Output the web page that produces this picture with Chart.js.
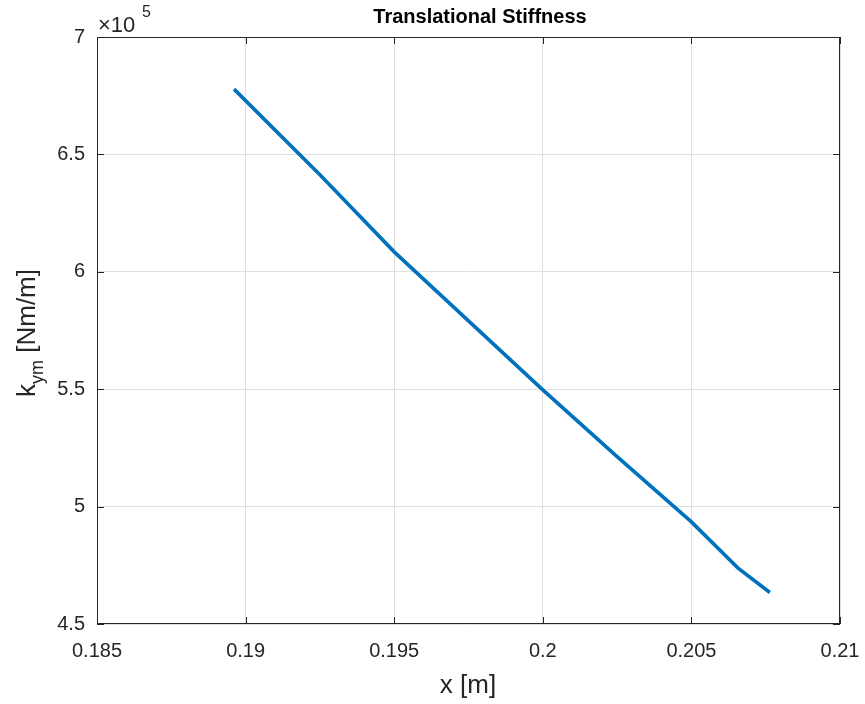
<!DOCTYPE html>
<html>
<head>
<meta charset="utf-8">
<script src="https://cdn.jsdelivr.net/npm/chart.js@4/dist/chart.umd.min.js"></script>
<style>
  html, body { margin: 0; padding: 0; background: #fff; }
  #wrap { width: 865px; height: 704px; }
</style>
</head>
<body>
<div id="wrap"><canvas id="chart" width="865" height="704"></canvas></div>
<script>
// data
const xPos = [0.18961, 0.1925, 0.195, 0.2, 0.2025, 0.205, 0.20656, 0.20764];
const kym = [677800, 641300, 608500, 549700, 521300, 493500, 473900, 463400];
const xTicks = ["0.185", "0.19", "0.195", "0.2", "0.205", "0.21"];
const yTicks = ["4.5", "5", "5.5", "6", "6.5", "7"];

const ink = "#262626";
const font = "'Liberation Sans', Arial, Helvetica, sans-serif";

const points = xPos.map((x, i) => ({ x: x, y: kym[i] }));

// frame, inward ticks, title and labels (matlab style)
const decor = {
  id: "decor",
  afterDraw(chart) {
    const ctx = chart.ctx;
    const a = chart.chartArea;
    const xs = chart.scales.x, ys = chart.scales.y;
    ctx.save();
    ctx.strokeStyle = ink;
    ctx.lineWidth = 1;
    ctx.strokeRect(a.left + 0.5, a.top + 0.5, a.right - a.left - 1, a.bottom - a.top - 1);
    ctx.beginPath();
    xs.ticks.forEach(t => {
      const p = Math.round(xs.getPixelForValue(t.value)) + 0.5;
      ctx.moveTo(p, a.bottom); ctx.lineTo(p, a.bottom - 7);
      ctx.moveTo(p, a.top); ctx.lineTo(p, a.top + 7);
    });
    ys.ticks.forEach(t => {
      const p = Math.round(ys.getPixelForValue(t.value)) + 0.5;
      ctx.moveTo(a.left, p); ctx.lineTo(a.left + 7, p);
      ctx.moveTo(a.right, p); ctx.lineTo(a.right - 7, p);
    });
    ctx.stroke();

    ctx.fillStyle = "#000";
    ctx.font = "bold 20px " + font;
    ctx.textAlign = "center";
    ctx.textBaseline = "middle";
    ctx.fillText("Translational Stiffness", 480, 17);

    ctx.fillStyle = ink;
    ctx.font = "26px " + font;
    ctx.fillText("x [m]", 468, 686);

    // exponent label
    ctx.textAlign = "left";
    ctx.textBaseline = "alphabetic";
    ctx.font = "22px " + font;
    ctx.fillText("\u00d710", 98, 32);
    ctx.font = "16px " + font;
    ctx.fillText("5", 142, 17);

    // y axis title with subscript
    const big = "26px " + font, small = "18px " + font;
    ctx.font = big;
    const wk = ctx.measureText("k").width;
    const wr = ctx.measureText(" [Nm/m]").width;
    ctx.font = small;
    const ws = ctx.measureText("ym").width;
    const total = wk + ws + wr;
    ctx.translate(35, 333);
    ctx.rotate(-Math.PI / 2);
    let x0 = -total / 2;
    ctx.font = big;
    ctx.fillText("k", x0, 0);
    ctx.font = small;
    ctx.fillText("ym", x0 + wk, 8);
    ctx.font = big;
    ctx.fillText(" [Nm/m]", x0 + wk + ws, 0);
    ctx.restore();
  }
};

new Chart(document.getElementById("chart").getContext("2d"), {
  type: "scatter",
  data: {
    datasets: [{
      data: points,
      showLine: true,
      borderColor: "#0072BD",
      borderWidth: 3.6,
      pointRadius: 0,
      fill: false,
      tension: 0
    }]
  },
  options: {
    responsive: false,
    animation: false,
    layout: { padding: { top: 37, right: 25, left: 0, bottom: 0 } },
    plugins: {
      legend: { display: false },
      title: { display: false },
      tooltip: { enabled: false }
    },
    scales: {
      x: {
        type: "linear",
        min: 0.185,
        max: 0.21,
        ticks: {
          stepSize: 0.005,
          color: ink,
          font: { family: font, size: 20 },
          padding: 15,
          maxRotation: 0,
          callback: (v, i) => xTicks[i]
        },
        grid: { color: "#dfdfdf", lineWidth: 1, drawTicks: false },
        border: { display: false },
        afterFit: s => { s.height = 80; s.paddingLeft = 0; s.paddingRight = 0; }
      },
      y: {
        type: "linear",
        min: 450000,
        max: 700000,
        ticks: {
          stepSize: 50000,
          color: ink,
          font: { family: font, size: 20 },
          padding: 12,
          callback: (v, i) => yTicks[i]
        },
        grid: { color: "#dfdfdf", lineWidth: 1, drawTicks: false },
        border: { display: false },
        afterFit: s => { s.width = 97; s.paddingTop = 0; s.paddingBottom = 0; }
      }
    }
  },
  plugins: [decor]
});
</script>
</body>
</html>
